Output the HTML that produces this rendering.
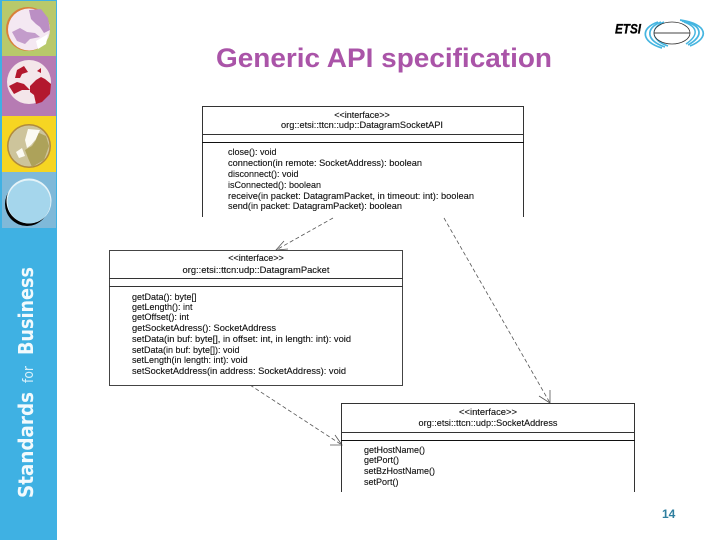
<!DOCTYPE html>
<html><head><meta charset="utf-8"><style>
html,body{margin:0;padding:0;background:#fff;width:720px;height:540px;overflow:hidden}
svg{display:block;filter:blur(0.35px)}
.m{font:9px "Liberation Sans",sans-serif;fill:#111;stroke:#111;stroke-width:0.12px}
.c{font:9px "Liberation Sans",sans-serif;fill:#111;stroke:#111;stroke-width:0.12px;text-anchor:middle}
</style></head><body>
<svg width="720" height="540" viewBox="0 0 720 540" xmlns="http://www.w3.org/2000/svg">
<!-- sidebar -->
<rect x="0" y="0" width="57" height="540" fill="#3fb1e3"/>
<rect x="2" y="1" width="54" height="55" fill="#b8c96b"/>
<rect x="2" y="56" width="54" height="60" fill="#b67bb3"/>
<rect x="2" y="116" width="54" height="56" fill="#f6d522"/>
<rect x="2" y="172" width="54" height="56" fill="#7fb9d9"/>
<!-- planet 1 -->
<circle cx="28" cy="29" r="22" fill="#d9803a"/>
<circle cx="29" cy="29.500" r="21" fill="#f4e8f2"/>
<path d="M29 10 L41 9 L48 18 L50 30 L44 33 L40 27 L36 24 L31 19Z" fill="#bb8fc4"/>
<path d="M12 32 L20 28 L27 32 L35 33 L40 37 L30 39 L25 44 L17 41Z" fill="#c39ccb"/>
<path d="M36 41 L48 34 L46 44 L38 49Z" fill="#fff"/>
<!-- planet 2 -->
<circle cx="29" cy="82" r="22" fill="#f4e6ea"/>
<path d="M17 70 L24 66 L28 72 L22 74 L20 78 L15 78Z M30 86 L36 80 L41 77 L45 79 L51 84 L50 94 L42 102 L36 104 L34 95 L30 92Z M9 86 L17 82 L24 84 L30 90 L22 90 L14 94Z M37 71 L41 68 L41 73Z" fill="#b3182e"/>
<!-- planet 3 -->
<circle cx="29" cy="146" r="22" fill="#b08a3c"/>
<circle cx="29" cy="146" r="20.500" fill="#cdc49b"/>
<path d="M37 132 L46 136 L49 146 L44 160 L32 167 L28 158 L25 150 L32 146 L36 140Z" fill="#ada25a"/>
<path d="M28 129 L40 130 L36 139 L31 145 L27 148 L25 140Z M16 152 L22 148 L25 156 L19 158Z" fill="#fbfaf2"/>
<!-- planet 4 -->
<circle cx="27" cy="204" r="22" fill="#000"/>
<circle cx="29" cy="201" r="22.500" fill="#e4f3f8"/>
<circle cx="29" cy="202" r="21.500" fill="#a5d6ec"/>
<!-- sidebar text -->
<text transform="translate(33,498) rotate(-90)" font-family="'DejaVu Sans',sans-serif" font-size="20" fill="#f2fafd" font-weight="bold" textLength="106" lengthAdjust="spacingAndGlyphs">Standards</text>
<text transform="translate(33,383) rotate(-90)" font-family="'DejaVu Sans',sans-serif" font-size="14" fill="#d8f0fa" textLength="17" lengthAdjust="spacingAndGlyphs">for</text>
<text transform="translate(33,355) rotate(-90)" font-family="'DejaVu Sans',sans-serif" font-size="20" fill="#f2fafd" font-weight="bold" textLength="88" lengthAdjust="spacingAndGlyphs">Business</text>
<!-- title -->
<text x="216" y="67" font-family="'Liberation Sans',sans-serif" font-weight="bold" font-size="27" fill="#aa54a8" textLength="336" lengthAdjust="spacingAndGlyphs">Generic API specification</text>
<!-- logo -->
<text x="615" y="33.500" font-family="'Liberation Sans',sans-serif" font-style="italic" font-weight="bold" font-size="14" fill="#000" stroke="#000" stroke-width="0.3" textLength="26" lengthAdjust="spacingAndGlyphs">ETSI</text>
<g fill="none" stroke="#45b5e0">
<path d="M658 22 C 640 28 641 42 662 48" stroke-width="1.700"/>
<path d="M661 22 C 645 28 646 41 665 47" stroke-width="1.700"/>
<path d="M664 22 C 650 28 651 40 668 46" stroke-width="1.700"/>
<path d="M680 20 C 708 24 710 38 690 46" stroke-width="1.700"/>
<path d="M682 21 C 703 25 704 36 688 45" stroke-width="1.700"/>
<path d="M684 22 C 698 27 699 35 686 44" stroke-width="1.500"/>
</g>
<ellipse cx="672" cy="33" rx="18" ry="11" fill="#fff" stroke="#333" stroke-width="0.8"/>
<line x1="654" y1="33" x2="690" y2="33" stroke="#444" stroke-width="0.9"/>
<!-- connectors -->
<g fill="none" stroke="#555" stroke-width="0.8">
<path d="M333 218 L276 250" stroke-dasharray="4 2.500"/>
<path d="M284 241 L276 250 L288 249"/>
<path d="M444 218 L550 403" stroke-dasharray="4 2.500"/>
<path d="M539 396 L550 403 L550 390"/>
<path d="M250 385 L342 445" stroke-dasharray="4 2.500"/>
<path d="M335 435 L342 445 L330 445"/>
</g>
<!-- box 1 -->
<g fill="none" stroke="#333" stroke-width="1">
<path d="M202.500 217 V106.500 H523.500 V217"/>
<line x1="202" y1="134.500" x2="524" y2="134.500"/>
<line x1="202" y1="142.500" x2="524" y2="142.500" stroke="#111"/>
</g>
<text class="c" x="362" y="118">&lt;&lt;interface&gt;&gt;</text>
<text class="c" x="362" y="128" textLength="162" lengthAdjust="spacingAndGlyphs">org::etsi::ttcn::udp::DatagramSocketAPI</text>
<text class="m" x="228" y="155">close(): void</text>
<text class="m" x="228" y="166" textLength="194" lengthAdjust="spacingAndGlyphs">connection(in remote: SocketAddress): boolean</text>
<text class="m" x="228" y="177">disconnect(): void</text>
<text class="m" x="228" y="188">isConnected(): boolean</text>
<text class="m" x="228" y="199" textLength="246" lengthAdjust="spacingAndGlyphs">receive(in packet: DatagramPacket, in timeout: int): boolean</text>
<text class="m" x="228" y="209" textLength="174" lengthAdjust="spacingAndGlyphs">send(in packet: DatagramPacket): boolean</text>
<!-- box 2 -->
<rect x="109.500" y="250.500" width="293" height="135" fill="#fff" stroke="#444" stroke-width="1"/>
<line x1="109" y1="278.500" x2="403" y2="278.500" stroke="#333"/>
<line x1="109" y1="286.500" x2="403" y2="286.500" stroke="#333"/>
<text class="c" x="256" y="261">&lt;&lt;interface&gt;&gt;</text>
<text class="c" x="256" y="273" textLength="147" lengthAdjust="spacingAndGlyphs">org::etsi::ttcn:udp::DatagramPacket</text>
<text class="m" x="132" y="300">getData(): byte[]</text>
<text class="m" x="132" y="310">getLength(): int</text>
<text class="m" x="132" y="320">getOffset(): int</text>
<text class="m" x="132" y="331" textLength="144" lengthAdjust="spacingAndGlyphs">getSocketAdress(): SocketAddress</text>
<text class="m" x="132" y="342" textLength="219" lengthAdjust="spacingAndGlyphs">setData(in buf: byte[], in offset: int, in length: int): void</text>
<text class="m" x="132" y="353">setData(in buf: byte[]): void</text>
<text class="m" x="132" y="363">setLength(in length: int): void</text>
<text class="m" x="132" y="374" textLength="214" lengthAdjust="spacingAndGlyphs">setSocketAddress(in address: SocketAddress): void</text>
<!-- box 3 -->
<g fill="none" stroke="#333" stroke-width="1">
<path d="M341.500 492 V403.500 H634.500 V492"/>
<line x1="341" y1="432.500" x2="635" y2="432.500"/>
<line x1="341" y1="440.500" x2="635" y2="440.500" stroke="#111"/>
</g>
<text class="c" x="488" y="415" textLength="58" lengthAdjust="spacingAndGlyphs">&lt;&lt;interface&gt;&gt;</text>
<text class="c" x="488" y="426" textLength="139" lengthAdjust="spacingAndGlyphs">org::etsi::ttcn::udp::SocketAddress</text>
<text class="m" x="364" y="453">getHostName()</text>
<text class="m" x="364" y="463">getPort()</text>
<text class="m" x="364" y="474">setBzHostName()</text>
<text class="m" x="364" y="485">setPort()</text>
<!-- page number -->
<text x="662" y="518" font-family="'Liberation Sans',sans-serif" font-weight="bold" font-size="12" fill="#2f7f9f">14</text>
</svg>
</body></html>
